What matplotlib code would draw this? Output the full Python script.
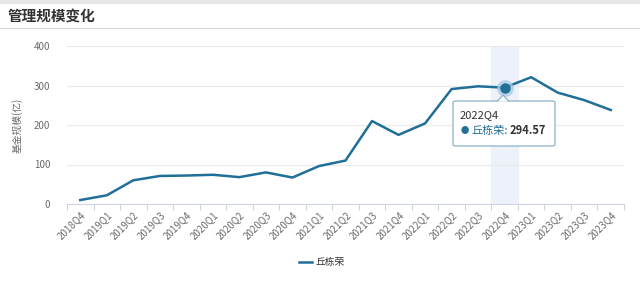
import numpy as np
import matplotlib as mpl
import matplotlib.pyplot as plt
from matplotlib.patches import FancyBboxPatch, Polygon
from matplotlib.lines import Line2D
mpl.use("Agg")

plt.rcParams['font.family'] = ['Noto Sans CJK SC', 'DejaVu Sans']

quarters = ["2018Q4", "2019Q1", "2019Q2", "2019Q3", "2019Q4", "2020Q1", "2020Q2",
            "2020Q3", "2020Q4", "2021Q1", "2021Q2", "2021Q3", "2021Q4", "2022Q1",
            "2022Q2", "2022Q3", "2022Q4", "2023Q1", "2023Q2", "2023Q3", "2023Q4"]
scale = [10, 22, 60, 71, 72, 74, 68, 80, 67, 96, 110, 210, 175, 204,
         291, 298, 294.57, 321, 282, 263, 238]
series_name = "丘栋荣"
hl_idx = 16

line_color = "#1f6f98"
grey_txt = "#6b6b6b"

fig = plt.figure(figsize = (6.4, 2.83), dpi = 100)
# header
fig.patches.append(mpl.patches.Rectangle((0, 1 - 3/283), 1, 3/283, transform = fig.transFigure, color = "#e6e6e6"))
fig.add_artist(Line2D([0, 1], [1 - 28/283, 1 - 28/283], transform = fig.transFigure, color = "#d9d9d9", linewidth = 0.8))
fig.text(8/640, 1 - 16/283, "管理规模变化", fontsize = 10.5, fontweight = "bold", color = "#333333", va = "center", ha = "left")

ax = fig.add_axes([67/640, 1 - 204/283, 557/640, 158/283])
x = np.arange(len(quarters))
ax.axvspan(hl_idx - 0.5, hl_idx + 0.5, color = "#edf1fa", zorder = 0)
ax.plot(x, scale, color = line_color, linewidth = 1.8, zorder = 3)
ax.plot([x[hl_idx]], [scale[hl_idx]], "o", markersize = 11, color = "#a9c8e6", alpha = 0.7, zorder = 4)
ax.plot([x[hl_idx]], [scale[hl_idx]], "o", markersize = 6.5, color = line_color, zorder = 5)

ax.set_xlim(-0.5, len(quarters) - 0.5)
ax.set_ylim(0, 400)
ax.set_yticks([0, 100, 200, 300, 400])
ax.yaxis.grid(True, color = "#eaeaea", linewidth = 0.8)
ax.set_axisbelow(True)
for s in ["top", "right", "left"]:
    ax.spines[s].set_visible(False)
ax.spines["bottom"].set_color("#cfd6e3")
ax.tick_params(axis = "y", length = 0, labelsize = 7, labelcolor = grey_txt, pad = 12)
ax.set_xticks(np.arange(len(quarters) + 1) - 0.5)
ax.set_xticklabels([])
ax.set_xticks(x, minor = True)
ax.set_xticklabels(quarters, minor = True, rotation = 45, ha = "right", va = "top", rotation_mode = "anchor")
ax.tick_params(axis = "x", which = "major", length = 4, color = "#cfd6e3")
ax.tick_params(axis = "x", which = "minor", length = 0, labelsize = 7, labelcolor = grey_txt, pad = 4)
ax.set_ylabel("基金规模(亿)", fontsize = 7, color = grey_txt, labelpad = 8)

# tooltip
box = FancyBboxPatch((453/640, 1 - 146/283), 102/640, 45/283, boxstyle = "round,pad=0,rounding_size=0.005",
                     transform = fig.transFigure, facecolor = "white", edgecolor = "#8fb1c8", linewidth = 0.9, zorder = 6)
fig.patches.append(box)
tri = Polygon([(497/640, 1 - 101.5/283), (503/640, 1 - 95/283), (509/640, 1 - 101.5/283)], closed = False,
              transform = fig.transFigure, facecolor = "white", edgecolor = "#8fb1c8", linewidth = 0.9, zorder = 7)
fig.patches.append(tri)
fig.text(460/640, 1 - 115/283, quarters[hl_idx], fontsize = 8, color = "#333333", va = "center", ha = "left", zorder = 8)
fig.text(461/640, 1 - 131/283, "●", fontsize = 6, color = line_color, va = "center", ha = "left", zorder = 8)
fig.text(472/640, 1 - 131/283, series_name + ":", fontsize = 8, color = line_color, va = "center", ha = "left", zorder = 8)
fig.text(510/640, 1 - 131/283, "%.2f" % scale[hl_idx], fontsize = 8, fontweight = "bold", color = "#333333", va = "center", ha = "left", zorder = 8)

# legend
fig.add_artist(Line2D([299/640, 312/640], [1 - 262/283, 1 - 262/283], transform = fig.transFigure, color = line_color, linewidth = 1.8))
fig.text(316/640, 1 - 262/283, series_name, fontsize = 7, color = "#333333", va = "center", ha = "left")

plt.savefig("out.png", dpi = 100)
